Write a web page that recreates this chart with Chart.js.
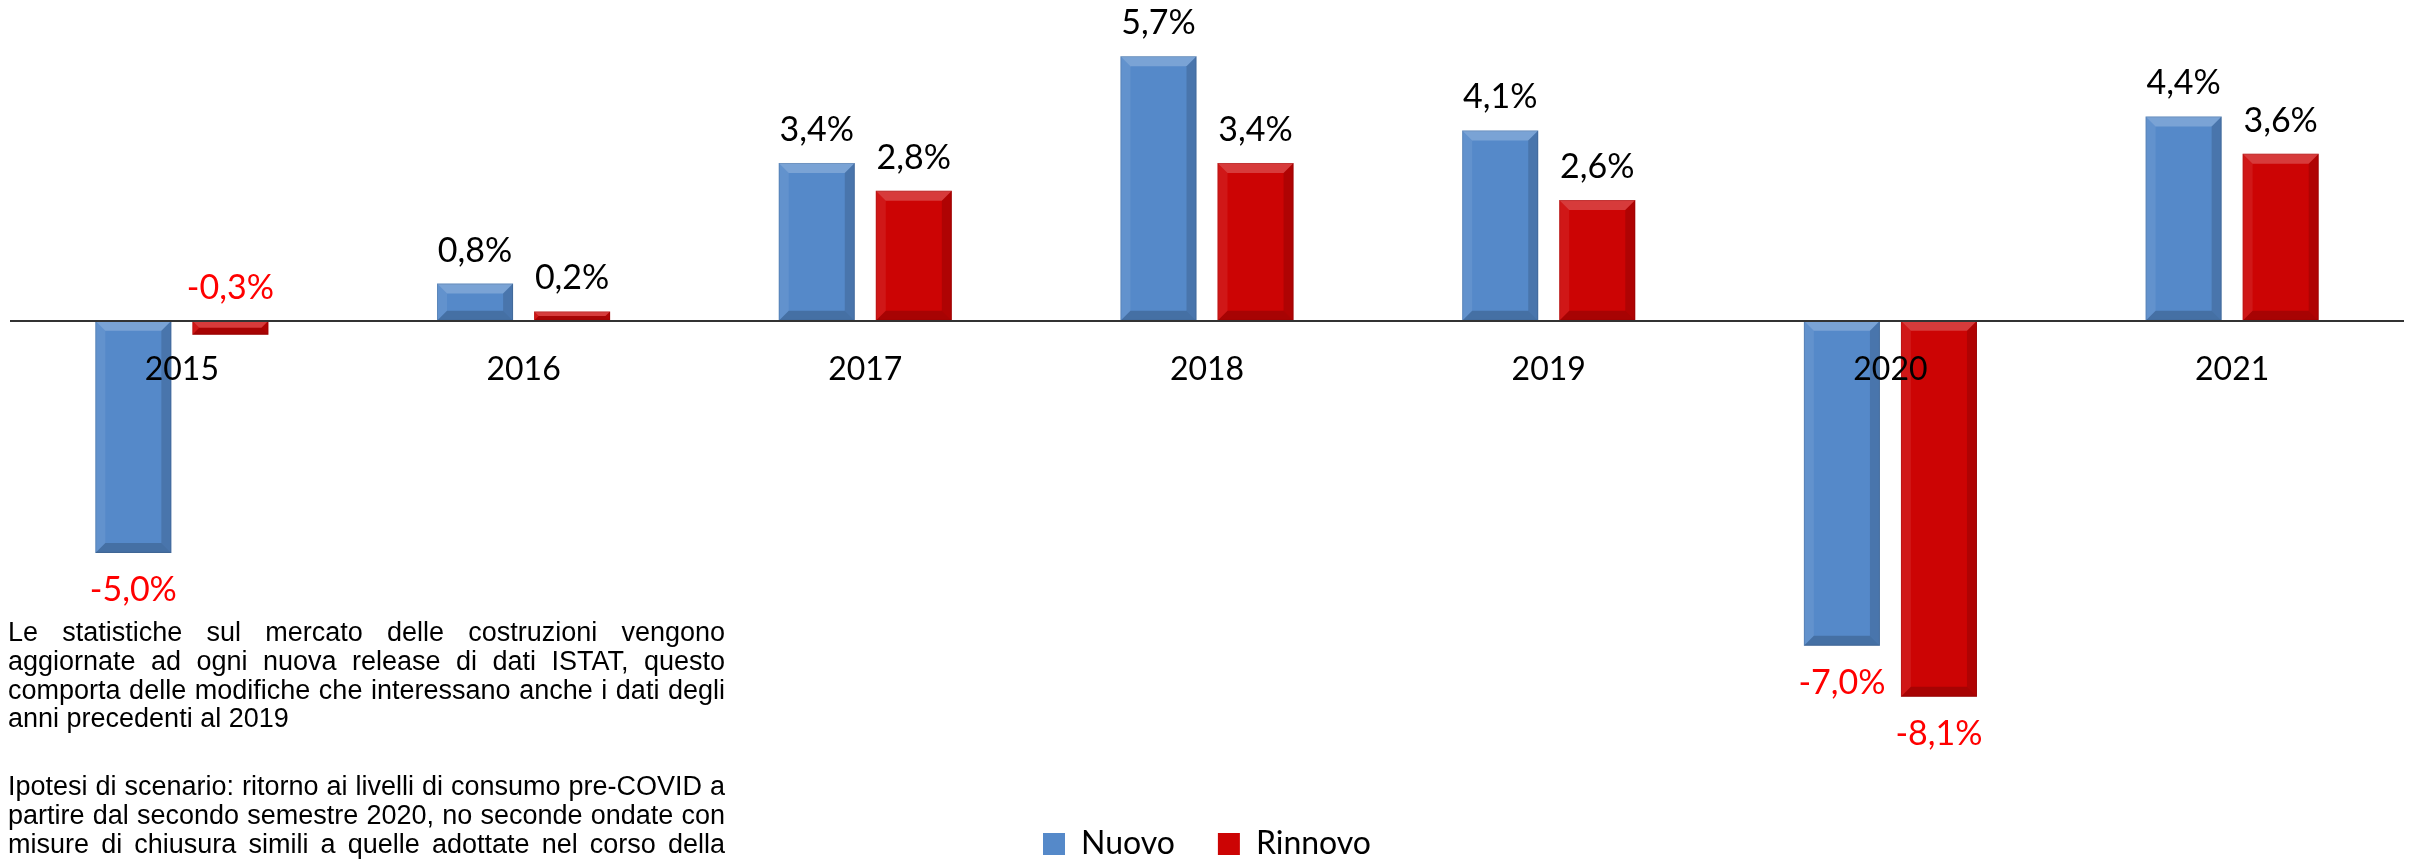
<!DOCTYPE html>
<html>
<head>
<meta charset="utf-8">
<script src="https://cdn.jsdelivr.net/npm/chart.js@4/dist/chart.umd.min.js"></script>
<style>
  html, body { margin: 0; padding: 0; background: #ffffff; }
  #wrap { position: relative; width: 2415px; height: 859px; overflow: hidden; background: #fff; }
  #c { position: absolute; left: 0; top: 0; display: block; }
  .note { position: absolute; left: 8px; width: 717px; font-family: "Liberation Sans", Arial, sans-serif;
          font-size: 27px; line-height: 28.8px; color: #000; }
  .note div { text-align: justify; text-align-last: justify; white-space: nowrap; }
  .note div.last { text-align: left; text-align-last: left; }
</style>
</head>
<body>
<div id="wrap">
  <canvas id="c" width="2415" height="870"></canvas>
  <div class="note" style="top:618px">
    <div>Le statistiche sul mercato delle costruzioni vengono</div>
    <div>aggiornate ad ogni nuova release di dati ISTAT, questo</div>
    <div>comporta delle modifiche che interessano anche i dati degli</div>
    <div class="last">anni precedenti al 2019</div>
  </div>
  <div class="note" style="top:772px">
    <div>Ipotesi di scenario: ritorno ai livelli di consumo pre-COVID a</div>
    <div>partire dal secondo semestre 2020, no seconde ondate con</div>
    <div>misure di chiusura simili a quelle adottate nel corso della</div>
  </div>
</div>
<script>
// ---- data ----
const years = ['2015', '2016', '2017', '2018', '2019', '2020', '2021'];
const nuovo = [-5.0, 0.8, 3.4, 5.7, 4.1, -7.0, 4.4];
const rinnovo = [-0.3, 0.2, 2.8, 3.4, 2.6, -8.1, 3.6];
const seriesNames = ['Nuovo', 'Rinnovo'];

const FONT = 'Lato, "Open Sans", sans-serif';

function fmt(v) { return v.toFixed(1).replace('.', ',') + '%'; }

const bevelPlugin = {
  id: 'bevel',
  afterDatasetsDraw(chart) {
    const ctx = chart.ctx;
    const poly = (pts, color) => {
      ctx.beginPath();
      ctx.moveTo(pts[0][0], pts[0][1]);
      for (let i = 1; i < pts.length; i++) ctx.lineTo(pts[i][0], pts[i][1]);
      ctx.closePath();
      ctx.fillStyle = color;
      ctx.fill();
    };
    ctx.save();
    chart.data.datasets.forEach((ds, di) => {
      const meta = chart.getDatasetMeta(di);
      meta.data.forEach(bar => {
        const p = bar.getProps(['x', 'y', 'base', 'width'], true);
        const l = p.x - p.width / 2, r = p.x + p.width / 2;
        const t = Math.min(p.y, p.base), b = Math.max(p.y, p.base);
        const s = Math.min(10, (b - t) / 2);
        poly([[l, t], [r, t], [r - s, t + s], [l + s, t + s]], 'rgba(255,255,255,0.22)');
        poly([[l, t], [l + s, t + s], [l + s, b - s], [l, b]], 'rgba(255,255,255,0.08)');
        poly([[r, t], [r, b], [r - s, b - s], [r - s, t + s]], 'rgba(0,0,0,0.14)');
        poly([[l, b], [r, b], [r - s, b - s], [l + s, b - s]], 'rgba(0,0,0,0.18)');
        ctx.strokeStyle = 'rgba(0,0,0,0.10)';
        ctx.lineWidth = 1;
        ctx.strokeRect(l + 0.5, t + 0.5, r - l - 1, b - t - 1);
      });
    });
    ctx.restore();
  }
};

const labelPlugin = {
  id: 'valueLabels',
  afterDatasetsDraw(chart) {
    const ctx = chart.ctx;
    ctx.save();
    ctx.font = '34px ' + FONT;
    ctx.textAlign = 'center';
    ctx.textBaseline = 'alphabetic';
    chart.data.datasets.forEach((ds, di) => {
      const meta = chart.getDatasetMeta(di);
      meta.data.forEach((bar, i) => {
        const v = ds.data[i];
        const p = bar.getProps(['x', 'y', 'base'], true);
        let yb;
        if (v >= 0) {
          yb = p.y - 22;
        } else if (v > -1) {
          yb = p.base - 22;
        } else {
          yb = p.y + 48;
        }
        ctx.fillStyle = v < 0 ? '#FF0000' : '#000000';
        ctx.fillText(fmt(v), p.x, yb);
      });
    });
    ctx.restore();
  }
};

new Chart(document.getElementById('c'), {
  type: 'bar',
  data: {
    labels: years,
    datasets: [
      { label: seriesNames[0], data: nuovo, backgroundColor: '#5589C9', borderWidth: 0 },
      { label: seriesNames[1], data: rinnovo, backgroundColor: '#CC0404', borderWidth: 0 }
    ]
  },
  options: {
    responsive: false,
    devicePixelRatio: 1,
    animation: false,
    categoryPercentage: 0.568,
    barPercentage: 0.7835,
    layout: { padding: { left: 11, right: 12, top: 19, bottom: 0 } },
    scales: {
      x: {
        position: { y: 0 },
        grid: { display: false, drawTicks: false },
        border: { display: true, color: '#333333', width: 2, z: 1 },
        ticks: { color: '#000', font: { family: FONT, size: 32 }, padding: 30, z: 1, maxRotation: 0 }
      },
      y: {
        display: false,
        min: -10,
        max: 6.5
      }
    },
    plugins: {
      legend: {
        position: 'bottom',
        labels: {
          color: '#000',
          font: { family: FONT, size: 32 },
          boxWidth: 22,
          boxHeight: 22,
          padding: 43
        }
      },
      tooltip: { enabled: false }
    }
  },
  plugins: [bevelPlugin, labelPlugin]
});
</script>
</body>
</html>
